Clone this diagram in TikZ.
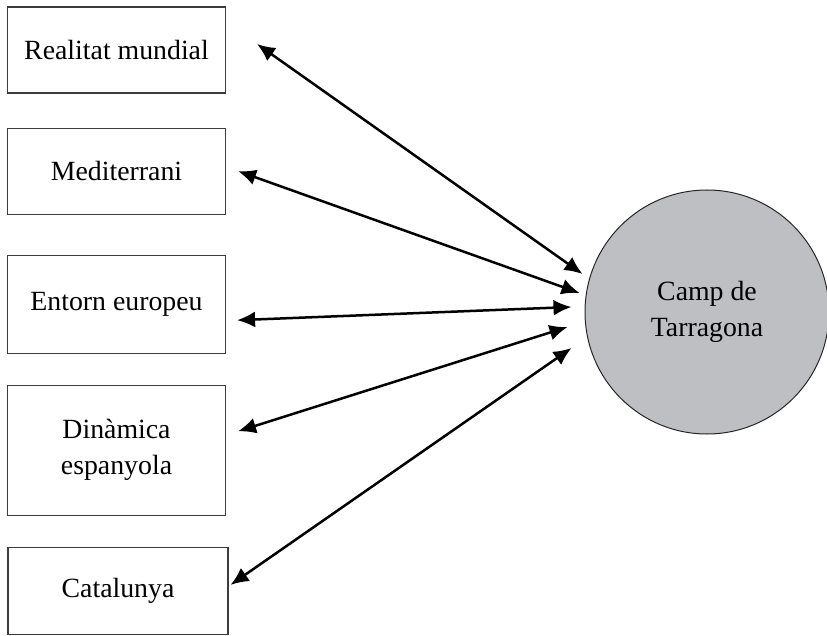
\documentclass[tikz,border=0pt]{standalone}
\usepackage{fontspec}
\setmainfont{Liberation Serif}
\definecolor{campgray}{RGB}{190,191,195}
\definecolor{boxline}{RGB}{60,60,60}
\usetikzlibrary{positioning,calc,arrows.meta}

\begin{document}
\begin{tikzpicture}[x=1pt,y=-1pt,
    every node/.style={font=\fontsize{27.8}{36}\selectfont,align=center},
    scopebox/.style={draw=boxline,line width=1.1pt,minimum width=218pt,inner sep=0pt},
    campnode/.style={circle,draw=black!85,line width=1pt,fill=campgray,minimum size=244pt},
    link/.style={line width=2.5pt,{Latex[length=18pt,width=16pt]}-{Latex[length=18pt,width=16pt]}}
    ]
    \useasboundingbox (0,0) rectangle (827,636);

    \node (mon) [scopebox,minimum height=86pt] at (116.5,50) {Realitat mundial};
    \node (med) [scopebox,minimum height=86pt,below=34pt of mon] {Mediterrani};
    \node (eur) [scopebox,minimum height=98pt,below=40pt of med] {Entorn europeu};
    \node (esp) [scopebox,minimum height=130pt,below=31pt of eur] {Dinàmica\\espanyola};
    \node (cat) [scopebox,minimum height=87pt,minimum width=220pt,below=31pt of esp,xshift=1.5pt] {Catalunya};
    \node (camp) [campnode] at (707,312) {Camp de\\Tarragona};

    % the links
    \draw [link] ($(mon.east)+(31,-6)$) -- ($(camp.west)+(-2,-38)$);
    \draw [link] ($(med.east)+(12,0)$) -- ($(camp.west)+(-5,-19)$);
    \draw [link] ($(eur.east)+(11,16)$) -- ($(camp.west)+(-13,-5)$);
    \draw [link] ($(esp.east)+(12,-19)$) -- ($(camp.west)+(-17,15)$);
    \draw [link] ($(cat.east)+(2,-6)$) -- ($(camp.west)+(-13,36)$);
\end{tikzpicture}
\end{document}
